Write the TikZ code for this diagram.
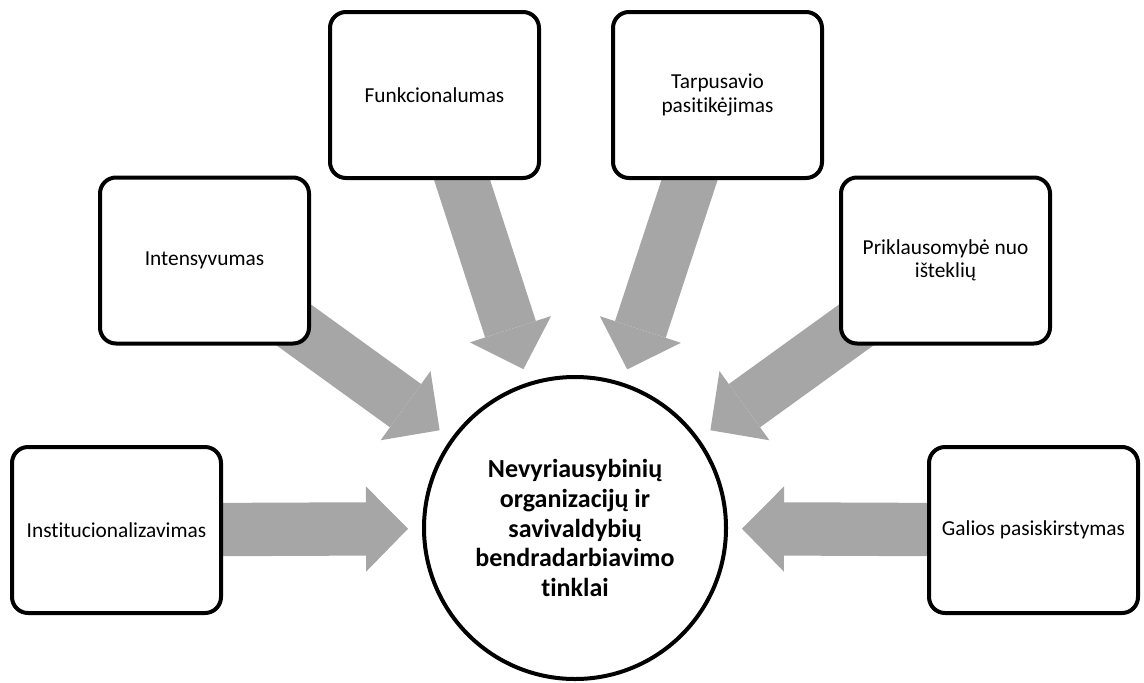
\documentclass[tikz,border=0pt]{standalone}
\usepackage{fontspec}
\setmainfont{Carlito}[Ligatures=NoCommon]
\usetikzlibrary{arrows.meta, backgrounds}
\definecolor{arrowgray}{RGB}{166,166,166}
\begin{document}
\begin{tikzpicture}[x=0.75pt, y=-0.75pt,
    factor/.style={draw, line width=3pt, rounded corners=12pt, fill=white,
      minimum width=156.75pt, minimum height=124.5pt, align=center,
      font=\fontsize{16}{17.5}\selectfont},
    hub/.style={draw, circle, line width=3pt, fill=white, minimum size=226.5pt,
      inner sep=0pt, align=center, font=\bfseries\fontsize{19.5}{22.3}\selectfont},
    blockarrow/.style={arrowgray, line width=40pt, shorten >=10.5pt,
      -{Triangle[length=31.5pt, width=64pt, line width=0pt]}}]
  \useasboundingbox (0,0) rectangle (1144,682);

  \node[hub] (tinklai) at (575,528) {Nevyriausybinių\\organizacijų ir\\savivaldybių\\bendradarbiavimo\\tinklai};

  \node[factor] (inst) at (116.5,530) {Institucionalizavimas};
  \node[factor] (intens) at (204.5,260.5) {Intensyvumas};
  \node[factor] (funkc) at (434.5,95) {Funkcionalumas};
  \node[factor] (pasit) at (717.5,95) {Tarpusavio\\pasitikėjimas};
  \node[factor] (priklaus) at (945.5,260.5) {Priklausomybė nuo\\išteklių};
  \node[factor] (galia) at (1033.5,530) {Galios pasiskirstymas};

  \begin{scope}[on background layer]
    \foreach \src in {inst, intens, funkc, pasit, priklaus, galia}
      \draw[blockarrow] (\src.center) -- (tinklai);
  \end{scope}
\end{tikzpicture}
\end{document}
